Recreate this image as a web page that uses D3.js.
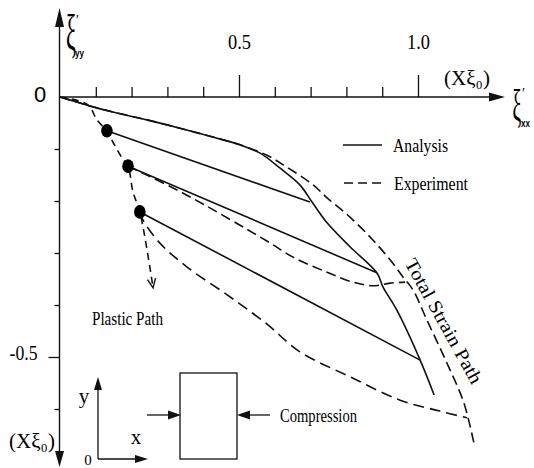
<!DOCTYPE html>
<html>
<head>
<meta charset="utf-8">
<script src="https://cdn.jsdelivr.net/npm/d3@7"></script>
<style>
  html, body { margin: 0; padding: 0; background: #fff; }
  svg { display: block; }
  text { font-family: "Liberation Serif", "Times New Roman", serif; fill: #000; }
</style>
</head>
<body>
<div id="chart"></div>
<script>
// strain values in units of ξ0 (x: ξ'xx, y: ξ'yy)
const xTicks = [0.1, 0.2, 0.3, 0.4, 0.5, 0.6, 0.7, 0.8, 0.9, 1.0];
const xLabelled = [0.5, 1.0];
const yTicks = [-0.1, -0.2, -0.3, -0.4, -0.5, -0.6];
const yLabelled = [-0.5];

// total strain path - analysis (solid)
const totalAnalysis = [
  [0, 0], [0.056, -0.0115], [0.092, -0.019], [0.148, -0.029], [0.243, -0.044],
  [0.335, -0.060], [0.427, -0.077], [0.503, -0.092], [0.559, -0.108], [0.615, -0.137],
  [0.670, -0.169], [0.704, -0.202], [0.746, -0.242], [0.810, -0.288], [0.885, -0.338],
  [0.902, -0.365], [0.941, -0.410], [1.006, -0.506], [1.045, -0.573]
];

// total strain path - experiment (dashed)
const totalExperiment = [
  [0, 0], [0.056, -0.0115], [0.148, -0.029], [0.243, -0.044], [0.335, -0.060],
  [0.427, -0.077], [0.503, -0.092], [0.578, -0.112], [0.634, -0.135], [0.707, -0.169],
  [0.746, -0.194], [0.810, -0.231], [0.874, -0.275], [0.922, -0.313], [0.958, -0.346],
  [0.986, -0.371], [1.025, -0.429], [1.081, -0.512], [1.128, -0.588], [1.156, -0.665]
];

// plastic path (dashed, ends in arrow)
const plasticPath = [
  [0, 0], [0.078, -0.015], [0.103, -0.044], [0.131, -0.065], [0.148, -0.087],
  [0.173, -0.117], [0.190, -0.133], [0.204, -0.183], [0.223, -0.221], [0.260, -0.367]
];

// unloading start points (black dots) and analysis end points
const unloadStart = [[0.131, -0.065], [0.190, -0.133], [0.223, -0.221]];
const unloadEndAnalysis = [[0.698, -0.202], [0.885, -0.338], [1.006, -0.506]];

// experiment unloading paths
const unloadExperiment2 = [
  [0.190, -0.133], [0.344, -0.185], [0.578, -0.277], [0.651, -0.308], [0.746, -0.337],
  [0.818, -0.356], [0.874, -0.363], [0.922, -0.358], [0.964, -0.356]
];
const unloadExperiment3 = [
  [0.223, -0.221], [0.232, -0.237], [0.279, -0.281], [0.355, -0.327], [0.466, -0.380],
  [0.575, -0.435], [0.670, -0.490], [0.810, -0.538], [0.950, -0.583], [1.061, -0.604],
  [1.137, -0.617]
];

const width = 534, height = 468;

const svg = d3.select('#chart')
  .append('svg')
  .attr('width', width)
  .attr('height', height);

const x = d3.scaleLinear().domain([0, 1]).range([60, 418]);
const y = d3.scaleLinear().domain([0, -0.5]).range([97, 357]);

const ink = '#111';

// condensed serif text, like the typeset original
function narrow(sel, len) {
  return sel.attr('textLength', len).attr('lengthAdjust', 'spacingAndGlyphs');
}

// ---- main axes ----
const axisG = svg.append('g');
axisG.append('line')
  .attr('x1', x(0) - 1).attr('x2', 491)
  .attr('y1', y(0)).attr('y2', y(0))
  .attr('stroke', ink).attr('stroke-width', 1.4);
axisG.append('path')
  .attr('d', `M505,${y(0)} L489,${y(0) - 4.5} L489,${y(0) + 4.5} Z`)
  .attr('fill', ink);

axisG.append('line')
  .attr('x1', x(0) - 0.5).attr('x2', x(0) - 0.5)
  .attr('y1', 25).attr('y2', 453)
  .attr('stroke', ink).attr('stroke-width', 1.4);
axisG.append('path')
  .attr('d', `M${x(0) - 0.5},8 L${x(0) - 5},27 L${x(0) + 4},27 Z`)
  .attr('fill', ink);
axisG.append('path')
  .attr('d', `M${x(0) - 0.5},467 L${x(0) - 5},451 L${x(0) + 4},451 Z`)
  .attr('fill', ink);

// x ticks (upward)
const gx = svg.append('g')
  .attr('transform', `translate(0,${y(0)})`)
  .call(d3.axisTop(x)
    .tickValues(xTicks)
    .tickSize(10)
    .tickFormat(d => xLabelled.includes(d) ? d.toFixed(1) : ''));
gx.select('.domain').remove();
gx.selectAll('.tick line')
  .attr('y2', d => xLabelled.includes(d) ? -22 : -10)
  .attr('stroke', ink).attr('stroke-width', 1.3);
gx.selectAll('.tick text')
  .filter(d => xLabelled.includes(d))
  .attr('y', -48).attr('dy', 0)
  .style('font-family', '"Liberation Serif", serif')
  .style('font-size', '22px')
  .attr('fill', ink)
  .call(narrow, 23);

// y ticks (leftward)
const gy = svg.append('g')
  .attr('transform', `translate(${x(0) - 0.5},0)`)
  .call(d3.axisLeft(y)
    .tickValues(yTicks)
    .tickSize(5)
    .tickFormat(d => yLabelled.includes(d) ? d.toFixed(1) : ''));
gy.select('.domain').remove();
gy.selectAll('.tick line')
  .attr('x2', d => yLabelled.includes(d) ? -11 : -5)
  .attr('stroke', ink).attr('stroke-width', 1.3);
gy.selectAll('.tick text')
  .filter(d => yLabelled.includes(d))
  .attr('x', -36).attr('y', -5).attr('dy', '0.35em')
  .attr('text-anchor', 'middle')
  .style('font-family', '"Liberation Serif", serif')
  .style('font-size', '22px')
  .attr('fill', ink)
  .call(narrow, 28);

// origin label
svg.append('text')
  .attr('x', 40).attr('y', 94)
  .attr('dy', '0.35em')
  .attr('text-anchor', 'middle')
  .style('font-family', '"Liberation Sans", sans-serif')
  .style('font-size', '22px')
  .text('0');

// axis titles: narrow, tall ξ with a prime and a small subscript
function xiLabel(cx, baseline, size, sub) {
  const g = svg.append('g');
  g.append('text')
    .attr('transform', `translate(${cx},${baseline}) scale(0.45,1)`)
    .attr('text-anchor', 'middle')
    .style('font-size', size + 'px')
    .text('ξ');
  g.append('text')
    .attr('x', cx + 5).attr('y', baseline - size * 0.5)
    .style('font-size', '14px')
    .text('′');
  g.append('text')
    .attr('x', cx + 4).attr('y', baseline + 7)
    .style('font-family', '"Liberation Sans", sans-serif')
    .style('font-weight', 'bold')
    .style('font-size', '10px')
    .call(narrow, 9)
    .text(sub);
}
xiLabel(71, 50, 50, 'yy');
xiLabel(517, 120, 44, 'xx');

svg.append('text')
  .attr('x', 467).attr('y', 85)
  .attr('text-anchor', 'middle')
  .style('font-size', '21px')
  .text('(Χξ₀)');
svg.append('text')
  .attr('x', 32).attr('y', 448)
  .attr('text-anchor', 'middle')
  .style('font-size', '21px')
  .text('(Χξ₀)');

// ---- curves ----
const line = d3.line()
  .x(d => x(d[0]))
  .y(d => y(d[1]))
  .curve(d3.curveCatmullRom.alpha(0.5));

const plot = svg.append('g')
  .attr('fill', 'none')
  .attr('stroke', ink)
  .attr('stroke-width', 1.6);

plot.append('path').attr('d', line(totalExperiment)).attr('stroke-dasharray', '10,5');
plot.append('path').attr('d', line(totalAnalysis));
plot.append('path').attr('d', line(unloadExperiment2)).attr('stroke-dasharray', '10,5');
plot.append('path').attr('d', line(unloadExperiment3)).attr('stroke-dasharray', '11,6');
plot.append('path').attr('d', line(plasticPath)).attr('stroke-dasharray', '7,5');

// analysis unloading lines
plot.selectAll('.unload')
  .data(unloadStart.map((s, i) => [s, unloadEndAnalysis[i]]))
  .enter()
  .append('line')
  .attr('class', 'unload')
  .attr('x1', d => x(d[0][0])).attr('y1', d => y(d[0][1]))
  .attr('x2', d => x(d[1][0])).attr('y2', d => y(d[1][1]));

// open arrow head at the end of plastic path
const tip = plasticPath[plasticPath.length - 1];
const prev = plasticPath[plasticPath.length - 2];
const ang = Math.atan2(y(tip[1]) - y(prev[1]), x(tip[0]) - x(prev[0]));
const tx = x(tip[0]), ty = y(tip[1]);
const hl = 10, hw = 0.42;
plot.append('path')
  .attr('d', `M${tx - hl * Math.cos(ang - hw)},${ty - hl * Math.sin(ang - hw)} L${tx},${ty} L${tx - hl * Math.cos(ang + hw)},${ty - hl * Math.sin(ang + hw)}`)
  .attr('stroke-width', 1.4);

// black dots
svg.selectAll('.dot')
  .data(unloadStart)
  .enter()
  .append('ellipse')
  .attr('class', 'dot')
  .attr('cx', d => x(d[0]))
  .attr('cy', d => y(d[1]))
  .attr('rx', 5.8)
  .attr('ry', 6.8)
  .attr('fill', '#000');

// ---- legend ----
const legend = svg.append('g');
legend.append('line')
  .attr('x1', 343).attr('x2', 382).attr('y1', 145).attr('y2', 145)
  .attr('stroke', ink).attr('stroke-width', 1.5);
legend.append('text')
  .attr('x', 393).attr('y', 145).attr('dy', '0.35em')
  .style('font-size', '19px')
  .call(narrow, 55)
  .text('Analysis');
legend.append('line')
  .attr('x1', 344).attr('x2', 382).attr('y1', 183).attr('y2', 183)
  .attr('stroke', ink).attr('stroke-width', 1.5)
  .attr('stroke-dasharray', '9,5');
legend.append('text')
  .attr('x', 394).attr('y', 183).attr('dy', '0.35em')
  .style('font-size', '19px')
  .call(narrow, 74)
  .text('Experiment');

// annotations
svg.append('text')
  .attr('transform', 'translate(444,321) rotate(61)')
  .attr('text-anchor', 'middle')
  .attr('dy', '0.35em')
  .style('font-size', '19px')
  .call(narrow, 140)
  .text('Total  Strain  Path');

svg.append('text')
  .attr('x', 92).attr('y', 319).attr('dy', '0.35em')
  .style('font-size', '18px')
  .call(narrow, 71)
  .text('Plastic  Path');

// ---- compression inset ----
const inset = svg.append('g')
  .attr('fill', 'none')
  .attr('stroke', ink)
  .attr('stroke-width', 1.3);
inset.append('line').attr('x1', 98).attr('x2', 98).attr('y1', 459).attr('y2', 388);
inset.append('line').attr('x1', 98).attr('x2', 137).attr('y1', 459).attr('y2', 459);
inset.append('rect').attr('x', 180).attr('y', 373).attr('width', 57).attr('height', 86);
inset.append('line').attr('x1', 147).attr('x2', 172).attr('y1', 415).attr('y2', 415);
inset.append('line').attr('x1', 246).attr('x2', 270).attr('y1', 415).attr('y2', 415);

const heads = svg.append('g').attr('fill', ink);
heads.append('path').attr('d', 'M98,377 L94,390 L102,390 Z');
heads.append('path').attr('d', 'M148,459 L135,455 L135,463 Z');
heads.append('path').attr('d', 'M181,415 L168,410.5 L168,419.5 Z');
heads.append('path').attr('d', 'M237,415 L250,410.5 L250,419.5 Z');

svg.append('text').attr('x', 84).attr('y', 396).attr('dy', '0.35em')
  .attr('text-anchor', 'middle').style('font-size', '21px').text('y');
svg.append('text').attr('x', 136).attr('y', 437).attr('dy', '0.35em')
  .attr('text-anchor', 'middle').style('font-size', '21px').text('x');
svg.append('text').attr('x', 88).attr('y', 460).attr('dy', '0.35em')
  .attr('text-anchor', 'middle').style('font-size', '15px').text('0');
svg.append('text').attr('x', 280).attr('y', 415).attr('dy', '0.35em')
  .style('font-size', '19px')
  .call(narrow, 77)
  .text('Compression');
</script>
</body>
</html>
